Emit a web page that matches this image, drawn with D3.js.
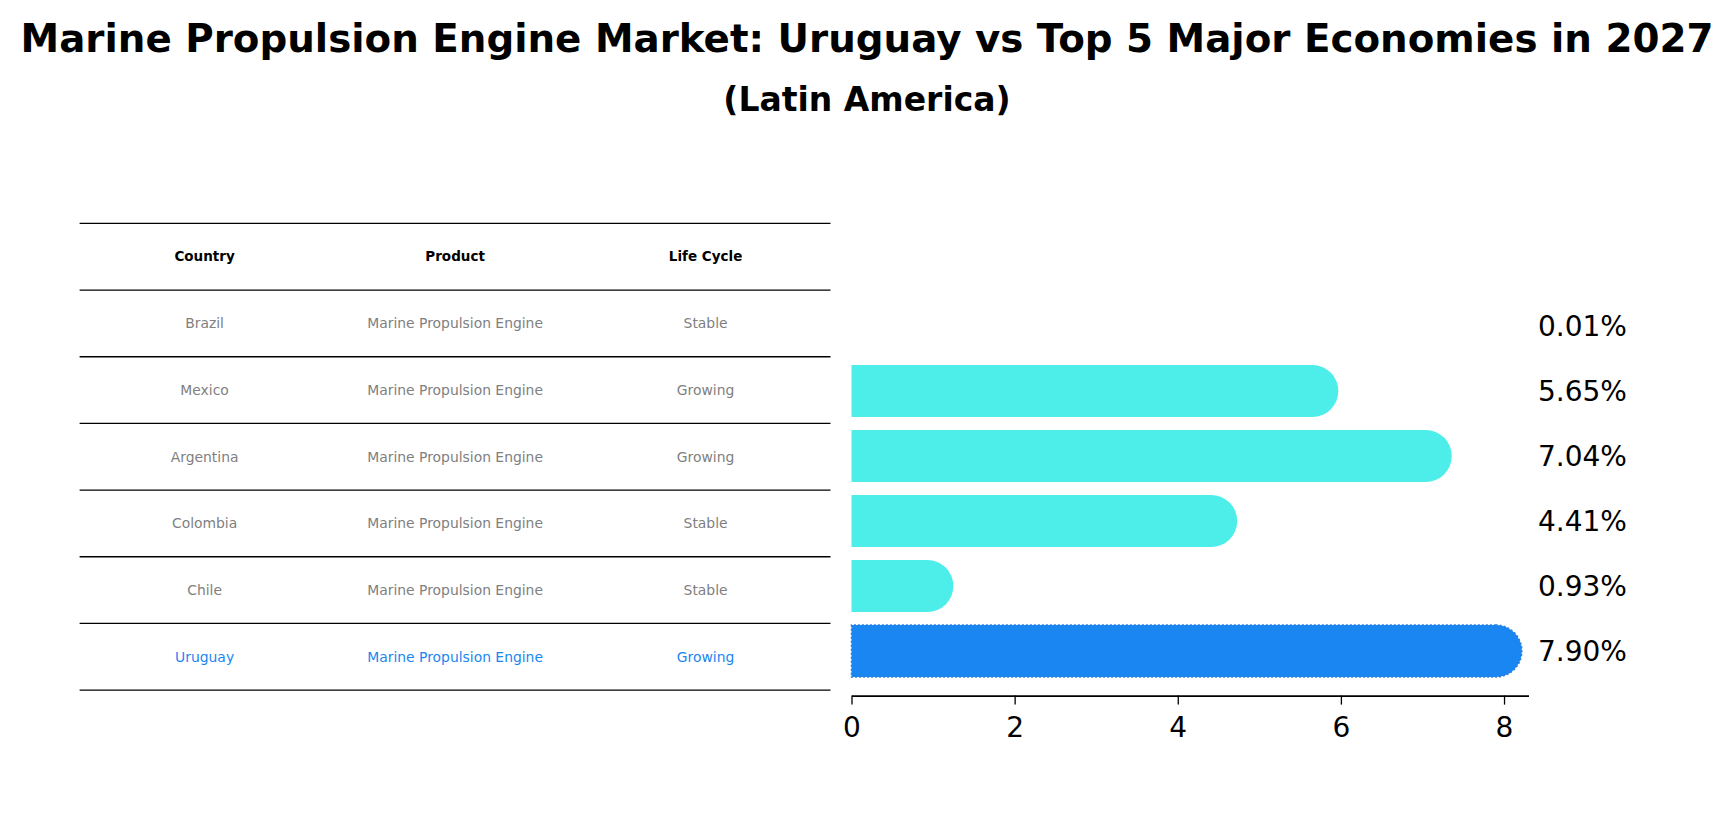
<!DOCTYPE html>
<html>
<head>
<meta charset="utf-8">
<script src="https://cdn.jsdelivr.net/npm/d3@7"></script>
<style>
  body { margin: 0; background: #fff; }
  text { font-family: "DejaVu Sans", sans-serif; }
</style>
</head>
<body>
<div id="chart"></div>
<script>
// Data
var countries = ["Brazil", "Mexico", "Argentina", "Colombia", "Chile", "Uruguay"];
var products = ["Marine Propulsion Engine", "Marine Propulsion Engine", "Marine Propulsion Engine",
                "Marine Propulsion Engine", "Marine Propulsion Engine", "Marine Propulsion Engine"];
var lifeCycles = ["Stable", "Growing", "Growing", "Stable", "Stable", "Growing"];
var growth = [0.01, 5.65, 7.04, 4.41, 0.93, 7.90];
var headers = ["Country", "Product", "Life Cycle"];
var xTicks = [0, 2, 4, 6, 8];
var highlight = "Uruguay";

var W = 1734, H = 823;
var cyan = "#4deeea", blue = "#1a86f2";

var svg = d3.select("#chart").append("svg")
    .attr("width", W)
    .attr("height", H);

// Titles
svg.append("text")
    .attr("x", 867).attr("y", 38)
    .attr("dy", "0.35em")
    .attr("text-anchor", "middle")
    .style("font-size", "38.8px")
    .style("font-weight", "bold")
    .text("Marine Propulsion Engine Market: Uruguay vs Top 5 Major Economies in 2027");

svg.append("text")
    .attr("x", 867).attr("y", 99)
    .attr("dy", "0.35em")
    .attr("text-anchor", "middle")
    .style("font-size", "33px")
    .style("font-weight", "bold")
    .text("(Latin America)");

// ---- Table on the left ----
var rowY = d3.scaleBand()
    .domain(["header"].concat(countries))
    .range([223.4, 690.1]);

var colX = d3.scalePoint()
    .domain(headers)
    .range([204.6, 705.6]);

var table = svg.append("g");

// horizontal rules
table.selectAll(".rule")
    .data(["header"].concat(countries))
  .enter().append("line")
    .attr("x1", 79.6).attr("x2", 830.5)
    .attr("y1", d => rowY(d)).attr("y2", d => rowY(d))
    .attr("stroke", "#000").attr("stroke-width", 1.3);

table.append("line")
    .attr("x1", 79.6).attr("x2", 830.5)
    .attr("y1", rowY.range()[1]).attr("y2", rowY.range()[1])
    .attr("stroke", "#000").attr("stroke-width", 1.3);

// header cells
table.selectAll(".head")
    .data(headers)
  .enter().append("text")
    .attr("x", d => colX(d))
    .attr("y", rowY("header") + rowY.bandwidth() / 2)
    .attr("dy", "0.35em")
    .attr("text-anchor", "middle")
    .style("font-size", "13.5px")
    .style("font-weight", "bold")
    .text(d => d);

// body cells
var rows = countries.map((c, i) => [c, products[i], lifeCycles[i]]);
rows.forEach(function(r) {
    table.selectAll(null)
        .data(r)
      .enter().append("text")
        .attr("x", (d, j) => colX(headers[j]))
        .attr("y", rowY(r[0]) + rowY.bandwidth() / 2)
        .attr("dy", "0.35em")
        .attr("text-anchor", "middle")
        .style("font-size", "13.9px")
        .attr("fill", r[0] === highlight ? blue : "#808080")
        .text(d => d);
});

// ---- Bar chart on the right ----
var x = d3.scaleLinear()
    .domain([0, 8.3])
    .range([851.5, 1528.5]);

var y = d3.scaleBand()
    .domain(countries)
    .range([293.5, 683.5])
    .paddingInner(0.2)
    .paddingOuter(0.1);

var data = countries.map((c, i) => ({country: c, value: growth[i]}));
var r = y.bandwidth() / 2;
// bars too thin to show (Brazil) are left out, as in the reference
var shown = data.filter(d => x(d.value) - x(0) > r);

var bars = svg.append("g");

bars.selectAll(".bar")
    .data(shown)
  .enter().append("rect")
    .attr("class", "bar")
    .attr("x", x(0))
    .attr("y", d => y(d.country))
    .attr("width", d => x(d.value) - x(0))
    .attr("height", y.bandwidth())
    .attr("fill", d => d.country === highlight ? blue : cyan);

// rounded ends
bars.selectAll(".cap")
    .data(shown)
  .enter().append("circle")
    .attr("class", "cap")
    .attr("cx", d => x(d.value))
    .attr("cy", d => y(d.country) + r)
    .attr("r", r)
    .attr("fill", d => d.country === highlight ? blue : cyan);

// dotted outline for highlighted bar
var hl = data.filter(d => d.country === highlight)[0];
var hx0 = x(0), hx1 = x(hl.value), hy0 = y(hl.country), hy1 = hy0 + y.bandwidth();
bars.append("path")
    .attr("d", "M" + hx1 + "," + hy0 + " L" + hx0 + "," + hy0 + " L" + hx0 + "," + hy1 + " L" + hx1 + "," + hy1 +
               " A" + r + "," + r + " 0 0 0 " + hx1 + "," + hy0)
    .attr("fill", "none")
    .attr("stroke", "#2a7fd8")
    .attr("stroke-width", 1.5)
    .attr("stroke-dasharray", "2,2");

// value labels
bars.selectAll(".val")
    .data(data)
  .enter().append("text")
    .attr("x", 1538)
    .attr("y", d => y(d.country) + r)
    .attr("dy", "0.35em")
    .style("font-size", "28px")
    .text(d => d.value.toFixed(2) + "%");

// x axis
var axis = svg.append("g")
    .attr("transform", "translate(0,695.6)")
    .call(d3.axisBottom(x).tickValues(xTicks).tickSize(9).tickSizeOuter(0).tickPadding(13));
axis.select(".domain").attr("stroke-width", 1.6);
axis.selectAll(".tick line").attr("stroke-width", 1.3);
axis.selectAll(".tick text")
    .style("font-family", "DejaVu Sans, sans-serif")
    .style("font-size", "28px");
</script>
</body>
</html>
